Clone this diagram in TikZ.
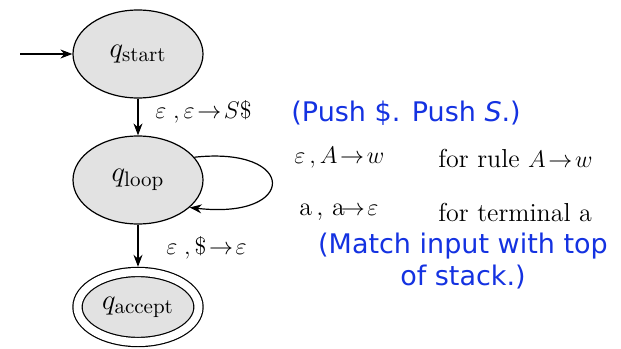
\documentclass[tikz,border=0pt]{standalone}
\usepackage{amsmath, amssymb}
\usepackage{fontspec}
\newfontfamily\notefont{DejaVu Sans}
\usepackage{tikz}
\usetikzlibrary{shapes.geometric, arrows.meta}

\definecolor{notablue}{RGB}{20,50,225}
\definecolor{stategray}{RGB}{226,226,226}

\tikzset{
  state/.style={ellipse, draw, line width=0.6pt, fill=stategray,
    minimum width=65pt, minimum height=44pt, inner sep=0pt, font=\fontsize{15}{17}\selectfont},
  final/.style={state, double, double distance=4pt, minimum width=60.5pt, minimum height=35pt},
  trans/.style={-{Stealth[length=6pt,width=4.5pt]}, line width=0.6pt},
  lbl/.style={anchor=west, font=\fontsize{13}{15}\selectfont, inner sep=0pt},
  note/.style={font=\notefont\fontsize{13.5}{16}\selectfont, text=notablue, inner sep=0pt}
}

\begin{document}
\begin{tikzpicture}[x=0.5pt, y=-0.5pt]
  \useasboundingbox (0,0) rectangle (621,348);

  % Zustände
  \node[state] (start) at (138,54) {$q_{\text{start}}$};
  \node[state] (loop) at (138,180) {$q_{\text{loop}}$};
  \node[final] (accept) at (138,307) {$q_{\text{accept}}$};
  \coordinate (entry) at (20,54);

  % Übergänge
  \draw[trans] (entry) -- (start);
  \draw[trans] (start) -- (loop);
  \draw[trans, shorten >=2.3pt] (loop) -- (accept);
  \draw[trans] (loop.22) .. controls (298,146) and (298,220) .. (loop.-28);

  % Beschriftungen
  \node[lbl] (push) at (155,112) {$\varepsilon\;,\varepsilon\!\rightarrow\! S\$$};
  \node[lbl] (pop) at (166,248) {$\varepsilon\;,\$\!\rightarrow\!\varepsilon$};
  \node[lbl] (rulea) at (294,158) {$\varepsilon\,, A\!\rightarrow\! w$};
  \node[lbl] (ruleb) at (438,158) {for rule $A\!\rightarrow\! w$};
  \node[lbl] (terma) at (299,212) {a\,, a$\!\rightarrow\!\varepsilon$};
  \node[lbl] (termb) at (438,212) {for terminal a};

  % Notizen
  \node[note, anchor=west] (pushnote) at (291,113) {(Push \$. Push \textit{S}.)};
  \node[note, align=center] (matchnote) at (463,261) {(Match input with top\\of stack.)};
\end{tikzpicture}
\end{document}
